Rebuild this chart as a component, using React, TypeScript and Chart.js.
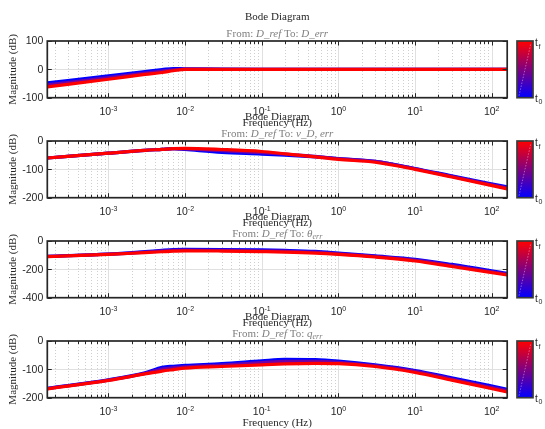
import React, { useEffect, useRef } from 'react';
import { Chart, registerables } from 'chart.js';

Chart.register(...registerables);

// ---- data ----
const freqHz = [1.5915e-4, 1e-3, 3e-3, 5e-3, 7e-3, 1e-2, 3e-2, 0.1, 0.2, 0.5, 1, 3, 10, 30, 159.15];

const dErrT0 = [-48, -23, -8, -1, 3, 2, 0.5, 0, 0, 0, 0, 0, 0, 0, 0];
const dErrMid = [-55, -29, -13, -6, -1.5, 1, 0.3, 0, 0, 0, 0, 0, 0, 0, 0];
const dErrTf = [-62, -35, -18, -11, -5, 0, 0, 0, 0, 0, 0, 0, 0, 0, 0];

const vErrT0 = [-60, -43, -33, -29.5, -27, -30, -40, -46, -50, -56, -62, -72, -97, -123, -162];
const vErrMid = [-60, -43, -33, -29.5, -27, -28, -34, -41, -46, -54, -62, -72, -98, -125, -165];
const vErrTf = [-60, -43, -33, -29.5, -27, -26, -30, -37, -45, -56, -65, -75, -100, -127, -169];

const thErrT0 = [-108, -92, -75, -66, -61, -59, -60, -63, -66, -73, -85, -105, -129, -165, -228];
const thErrMid = [-109, -93, -78, -70, -66, -64, -66, -69, -72, -79, -90, -109, -135, -172, -234];
const thErrTf = [-110, -95, -82, -76, -72, -69, -71, -75, -78, -85, -94, -113, -141, -180, -240];

const qErrT0 = [-167, -137, -112, -93, -89, -86, -80, -70, -65, -66, -71, -84, -104, -130, -170];
const qErrMid = [-168, -138, -114, -99, -94, -91, -85, -76, -72, -72, -75, -87, -107, -134, -175];
const qErrTf = [-169, -139, -116, -106, -101, -96, -90, -84, -81, -79, -80, -90, -111, -138, -180];

const xTickExps = [-3, -2, -1, 0, 1, 2];
const yTicks1 = [-100, 0, 100];
const yTicks2 = [-200, -100, 0];
const yTicks3 = [-400, -200, 0];
const yTicks4 = [-200, -100, 0];

const titleText = 'Bode Diagram';
const xLabelText = 'Frequency (Hz)';
const yLabelText = 'Magnitude (dB)';

// ---- styling ----
const W = 545;
const PLOT_LEFT = 47.3;
const PLOT_RIGHT = 507.2;
const PLOT_TOP = 41;
const PLOT_BOTTOM = 97.7;
const SERIF = '"Liberation Serif", "DejaVu Serif", serif';
const SANS = '"Liberation Sans", Arial, sans-serif';
const DARK = '#262626';

type Part = { t: string; font: string; dy?: number };

const rm = `11px ${SERIF}`;
const it = `italic 11px ${SERIF}`;
const itSub = `italic 8px ${SERIF}`;

const panels = [
  {
    sub: [{ t: 'From: ', font: rm }, { t: 'D_ref', font: it }, { t: ' To: ', font: rm }, { t: 'D_err', font: it }] as Part[],
    yMin: -100, yMax: 100, yTicks: yTicks1, series: [dErrTf, dErrMid, dErrT0],
  },
  {
    sub: [{ t: 'From: ', font: rm }, { t: 'D_ref', font: it }, { t: ' To: ', font: rm }, { t: 'v_D, err', font: it }] as Part[],
    yMin: -200, yMax: 0, yTicks: yTicks2, series: [vErrTf, vErrMid, vErrT0],
  },
  {
    sub: [{ t: 'From: ', font: rm }, { t: 'D_ref', font: it }, { t: ' To: ', font: rm }, { t: 'θ', font: it }, { t: 'err', font: itSub, dy: 2.5 }] as Part[],
    yMin: -400, yMax: 0, yTicks: yTicks3, series: [thErrTf, thErrMid, thErrT0],
  },
  {
    sub: [{ t: 'From: ', font: rm }, { t: 'D_ref', font: it }, { t: ' To: ', font: rm }, { t: 'q', font: it }, { t: 'err', font: itSub, dy: 2.5 }] as Part[],
    yMin: -200, yMax: 0, yTicks: yTicks4, series: [qErrTf, qErrMid, qErrT0],
  },
];

const seriesColors = ['#ff0000', '#7000a8', '#0000ff'];

function drawParts(ctx: CanvasRenderingContext2D, parts: Part[], cx: number, baseline: number, color: string) {
  ctx.fillStyle = color;
  ctx.textBaseline = 'alphabetic';
  ctx.textAlign = 'left';
  let w = 0;
  for (const p of parts) {
    ctx.font = p.font;
    w += ctx.measureText(p.t).width;
  }
  let xx = cx - w / 2;
  for (const p of parts) {
    ctx.font = p.font;
    ctx.fillText(p.t, xx, baseline + (p.dy || 0));
    xx += ctx.measureText(p.t).width;
  }
}

function line(ctx: CanvasRenderingContext2D, x1: number, y1: number, x2: number, y2: number) {
  ctx.beginPath();
  ctx.moveTo(x1, y1);
  ctx.lineTo(x2, y2);
  ctx.stroke();
}

function makePlugin(cfg: (typeof panels)[number]) {
  return {
    id: 'matlabDecor',
    beforeDatasetsDraw(chart: any) {
      const { ctx, chartArea: a, scales } = chart;
      const x = scales.x;
      const y = scales.y;
      ctx.save();
      ctx.lineWidth = 1;
      ctx.strokeStyle = '#cfcfcf';
      ctx.setLineDash([1, 2]);
      for (let e = -4; e <= 2; e++) {
        for (let m = 2; m <= 9; m++) {
          const v = m * Math.pow(10, e);
          if (v <= x.min || v >= x.max) continue;
          const px = Math.round(x.getPixelForValue(v)) + 0.5;
          line(ctx, px, a.top, px, a.bottom);
        }
      }
      ctx.setLineDash([]);
      ctx.strokeStyle = '#e0e0e0';
      for (const e of xTickExps) {
        const px = Math.round(x.getPixelForValue(Math.pow(10, e))) + 0.5;
        line(ctx, px, a.top, px, a.bottom);
      }
      for (const t of cfg.yTicks) {
        if (t === cfg.yMin || t === cfg.yMax) continue;
        const py = Math.round(y.getPixelForValue(t)) + 0.5;
        line(ctx, a.left, py, a.right, py);
      }
      ctx.restore();
    },
    afterDatasetsDraw(chart: any) {
      const { ctx, chartArea: a, scales } = chart;
      const x = scales.x;
      const y = scales.y;
      ctx.save();
      ctx.strokeStyle = DARK;
      ctx.lineWidth = 1;
      for (let e = -4; e <= 2; e++) {
        for (let m = 1; m <= 9; m++) {
          const v = m * Math.pow(10, e);
          if (v <= x.min || v >= x.max) continue;
          const px = Math.round(x.getPixelForValue(v)) + 0.5;
          const len = m === 1 ? 4.5 : 3;
          line(ctx, px, a.bottom, px, a.bottom - len);
          line(ctx, px, a.top, px, a.top + len);
        }
      }
      for (const t of cfg.yTicks) {
        const py = Math.round(y.getPixelForValue(t)) + 0.5;
        line(ctx, a.left, py, a.left + 4.5, py);
        line(ctx, a.right, py, a.right - 4.5, py);
      }
      ctx.lineWidth = 1.7;
      ctx.strokeRect(a.left, a.top, a.right - a.left, a.bottom - a.top);

      // colorbar
      const cbL = 517, cbR = 533;
      const g = ctx.createLinearGradient(0, a.top, 0, a.bottom);
      g.addColorStop(0, '#ff0000');
      g.addColorStop(1, '#0000ff');
      ctx.fillStyle = g;
      ctx.fillRect(cbL, a.top, cbR - cbL, a.bottom - a.top);
      ctx.strokeStyle = 'rgba(255,210,255,0.55)';
      ctx.lineWidth = 0.8;
      ctx.setLineDash([1.5, 1.5]);
      line(ctx, cbL + 2, a.bottom - 2, cbR - 2, a.top + 2);
      ctx.setLineDash([]);
      ctx.strokeStyle = '#3a3a3a';
      ctx.lineWidth = 1.7;
      ctx.strokeRect(cbL, a.top, cbR - cbL, a.bottom - a.top);
      ctx.restore();
    },
    afterDraw(chart: any) {
      const { ctx, chartArea: a, scales } = chart;
      const x = scales.x;
      const y = scales.y;
      ctx.save();
      const cx = (a.left + a.right) / 2;
      drawParts(ctx, [{ t: titleText, font: `11px ${SERIF}` }], cx, 19.5, DARK);
      drawParts(ctx, cfg.sub, cx, 36.5, '#7f7f7f');
      drawParts(ctx, [{ t: xLabelText, font: `11px ${SERIF}` }], cx, 126, DARK);
      ctx.save();
      ctx.translate(13, (a.top + a.bottom) / 2);
      ctx.rotate(-Math.PI / 2);
      ctx.font = `11px ${SERIF}`;
      ctx.fillStyle = DARK;
      ctx.textAlign = 'center';
      ctx.textBaseline = 'middle';
      ctx.fillText(yLabelText, 0, 0);
      ctx.restore();
      ctx.font = `10.5px ${SANS}`;
      ctx.fillStyle = DARK;
      ctx.textAlign = 'right';
      ctx.textBaseline = 'middle';
      for (const t of cfg.yTicks) {
        ctx.fillText(String(t), a.left - 4, y.getPixelForValue(t) + 0.5);
      }
      for (const e of xTickExps) {
        const px = x.getPixelForValue(Math.pow(10, e));
        drawParts(
          ctx,
          [
            { t: '10', font: `10.5px ${SANS}` },
            { t: String(e), font: `7px ${SANS}`, dy: -4.5 },
          ],
          px,
          a.bottom + 17.5,
          DARK,
        );
      }
      ctx.textAlign = 'left';
      ctx.textBaseline = 'alphabetic';
      ctx.fillStyle = DARK;
      ctx.font = `10px ${SANS}`;
      ctx.fillText('t', 535, a.top + 5);
      ctx.fillText('t', 535, a.bottom + 4);
      ctx.font = `7px ${SANS}`;
      ctx.fillText('f', 538.5, a.top + 7.5);
      ctx.fillText('0', 538.5, a.bottom + 6.5);
      ctx.restore();
    },
  };
}

function Panel({ idx }: { idx: number }) {
  const ref = useRef<HTMLCanvasElement | null>(null);
  const cfg = panels[idx];
  const H = idx === 3 ? 129 : 130;
  useEffect(() => {
    if (!ref.current) return;
    const chart = new Chart(ref.current, {
      type: 'line',
      data: {
        datasets: cfg.series.map((s, i) => ({
          data: freqHz.map((f, k) => ({ x: f, y: s[k] })),
          borderColor: seriesColors[i],
          borderWidth: 3.2,
          pointRadius: 0,
          fill: false,
          cubicInterpolationMode: 'monotone' as const,
          borderCapStyle: 'round' as const,
          borderJoinStyle: 'round' as const,
        })),
      },
      options: {
        animation: false,
        responsive: false,
        devicePixelRatio: 1,
        events: [],
        layout: {
          padding: { left: PLOT_LEFT, right: W - PLOT_RIGHT, top: PLOT_TOP, bottom: H - PLOT_BOTTOM },
        },
        plugins: { legend: { display: false }, tooltip: { enabled: false }, title: { display: false } },
        scales: {
          x: { type: 'logarithmic', min: freqHz[0], max: freqHz[freqHz.length - 1], display: false },
          y: { type: 'linear', min: cfg.yMin, max: cfg.yMax, display: false },
        },
      },
      plugins: [makePlugin(cfg)],
    } as any);
    return () => chart.destroy();
  }, [idx]);
  return (
    <div style={{ position: 'absolute', left: 0, top: idx * 100, width: W, height: H }}>
      <canvas ref={ref} width={W} height={H} style={{ width: W, height: H, display: 'block' }} />
    </div>
  );
}

export default function App() {
  return (
    <div style={{ position: 'absolute', left: 0, top: 0, width: W, height: 429, overflow: 'hidden', background: '#fff' }}>
      {[0, 1, 2, 3].map((i) => (
        <Panel key={i} idx={i} />
      ))}
    </div>
  );
}
